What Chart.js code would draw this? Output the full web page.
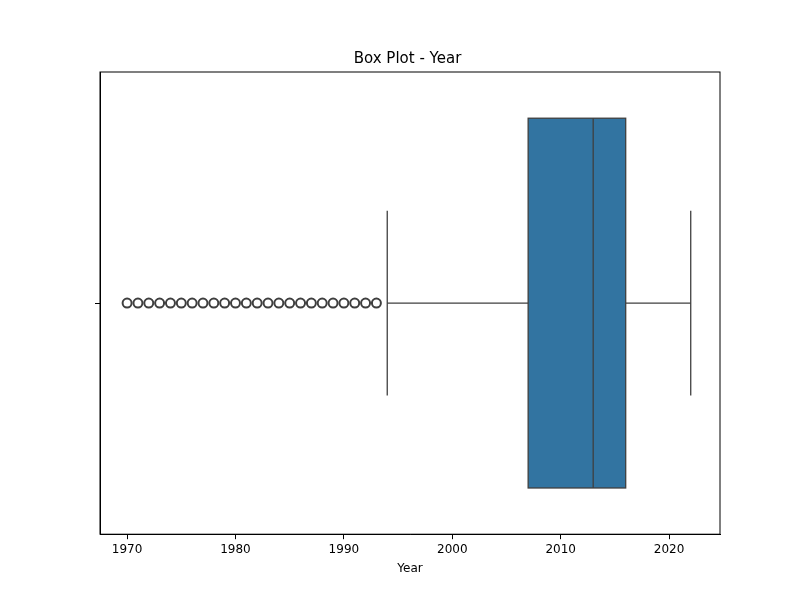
<!DOCTYPE html>
<html>
<head>
<meta charset="utf-8">
<script src="https://cdn.jsdelivr.net/npm/chart.js@4"></script>
<style>body{margin:0;background:#fff}</style>
</head>
<body>
<canvas id="c" width="800" height="600"></canvas>
<script>
// Valores do boxplot (Year)
const q1 = 2007;
const median = 2013;
const q3 = 2016;
const whiskerLow = 1994;
const whiskerHigh = 2022;
const outliers = [1970, 1971, 1972, 1973, 1974, 1975, 1976, 1977, 1978, 1979, 1980, 1981,
  1982, 1983, 1984, 1985, 1986, 1987, 1988, 1989, 1990, 1991, 1992, 1993];
const xTicks = [1970, 1980, 1990, 2000, 2010, 2020];

const boxHalf = 0.4;
const capHalf = 0.2;
const edge = '#3f3f3f';

const seg = (pts) => ({
  data: pts.map(p => ({ x: p[0], y: p[1] })),
  showLine: true, borderColor: edge, borderWidth: 1.3, pointRadius: 0, fill: false
});

// Caixa (q1..q3) desenhada pelas escalas do gráfico
const boxPlugin = {
  id: 'box',
  beforeDatasetsDraw(chart) {
    const { ctx, scales: { x, y } } = chart;
    const x0 = x.getPixelForValue(q1), x1 = x.getPixelForValue(q3);
    const y0 = y.getPixelForValue(-boxHalf), y1 = y.getPixelForValue(boxHalf);
    ctx.save();
    ctx.fillStyle = '#3274a1';
    ctx.fillRect(x0, y0, x1 - x0, y1 - y0);
    ctx.strokeStyle = edge;
    ctx.lineWidth = 1.3;
    ctx.strokeRect(x0, y0, x1 - x0, y1 - y0);
    ctx.restore();
  }
};

// Moldura completa em volta da área do gráfico
const framePlugin = {
  id: 'frame',
  afterDraw(chart) {
    const { ctx, chartArea: a } = chart;
    ctx.save();
    ctx.strokeStyle = '#000';
    ctx.lineWidth = 1;
    ctx.strokeRect(a.left, a.top, a.right - a.left, a.bottom - a.top);
    ctx.restore();
  }
};

new Chart(document.getElementById('c'), {
  type: 'scatter',
  data: {
    datasets: [
      seg([[median, -boxHalf], [median, boxHalf]]),
      seg([[whiskerLow, 0], [q1, 0]]),
      seg([[q3, 0], [whiskerHigh, 0]]),
      seg([[whiskerLow, -capHalf], [whiskerLow, capHalf]]),
      seg([[whiskerHigh, -capHalf], [whiskerHigh, capHalf]]),
      {
        data: outliers.map(v => ({ x: v, y: 0 })),
        pointRadius: 4.5, pointBackgroundColor: '#ffffff',
        pointBorderColor: edge, pointBorderWidth: 2
      }
    ]
  },
  options: {
    responsive: false,
    animation: false,
    layout: { padding: { left: 95, right: 80, top: 20, bottom: 22 } },
    plugins: {
      legend: { display: false },
      tooltip: { enabled: false },
      title: {
        display: true, text: 'Box Plot - Year', color: '#000',
        font: { family: 'DejaVu Sans', size: 15, weight: 'normal' },
        padding: { top: 30, bottom: 4 }
      }
    },
    scales: {
      x: {
        min: 1967.5, max: 2024.7,
        afterBuildTicks: s => { s.ticks = xTicks.map(v => ({ value: v })); },
        ticks: { color: '#000', font: { family: 'DejaVu Sans', size: 12 }, maxRotation: 0, callback: v => String(v) },
        grid: { drawOnChartArea: false, color: '#000', tickLength: 5 },
        border: { color: '#000' },
        title: { display: true, text: 'Year', color: '#000', font: { family: 'DejaVu Sans', size: 12 }, padding: 2 }
      },
      y: {
        min: -0.5, max: 0.5, reverse: true,
        afterBuildTicks: s => { s.ticks = [{ value: 0 }]; },
        ticks: { callback: () => '', padding: 0 },
        grid: { drawOnChartArea: false, color: '#000', tickLength: 5 },
        border: { color: '#000' }
      }
    }
  },
  plugins: [boxPlugin, framePlugin]
});
</script>
</body>
</html>
